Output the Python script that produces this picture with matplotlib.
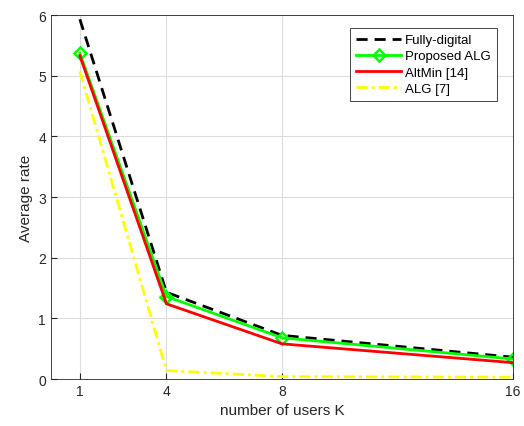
import matplotlib
matplotlib.use("Agg")
import matplotlib.pyplot as plt

plt.rcParams['font.family'] = ['Liberation Sans', 'DejaVu Sans']

users = [1, 4, 8, 16]
fully_digital = [5.93, 1.43, 0.72, 0.36]
proposed_alg = [5.37, 1.36, 0.68, 0.33]
altmin = [5.33, 1.24, 0.58, 0.27]
alg7 = [5.07, 0.14, 0.04, 0.03]

fig = plt.figure(figsize=(5.24, 4.27), dpi=100)
ax = fig.add_axes([0.0973, 0.110, 0.8817, 0.8525])

ax.plot(users, fully_digital, color='black', linestyle=(0, (4, 2.5)), linewidth=2, label='Fully-digital')
ax.plot(users, proposed_alg, color='#00ff00', linewidth=2, marker='D', markersize=6,
        markerfacecolor='none', markeredgewidth=1.8, label='Proposed ALG')
ax.plot(users, altmin, color='red', linewidth=2, label='AltMin [14]')
ax.plot(users, alg7, color='yellow', linestyle=(0, (4, 1.5, 1, 1.5)), linewidth=2, label='ALG [7]')

ax.set_xlim(0, 16)
ax.set_ylim(0, 6)
ax.set_xticks(users)
ax.set_yticks(range(0, 7))
ax.grid(True, color='#dcdcdc', linewidth=0.8)
ax.set_axisbelow(True)
ax.tick_params(direction='in', labelsize=10, colors='#262626', length=4)
for s in ax.spines.values():
    s.set_color('#262626')
    s.set_linewidth(0.6)

ax.set_xlabel('number of users K', fontsize=11, color='#262626')
ax.set_ylabel('Average rate', fontsize=11, color='#262626')

leg = ax.legend(loc='upper right', bbox_to_anchor=(0.965, 0.964), borderaxespad=0,
                fontsize=9.5, fancybox=False, framealpha=1, edgecolor='#262626',
                handlelength=3.4, borderpad=0.45, labelspacing=0.3, handletextpad=0.3)
leg.get_frame().set_linewidth(0.6)

fig.savefig('out.png', dpi=100)
